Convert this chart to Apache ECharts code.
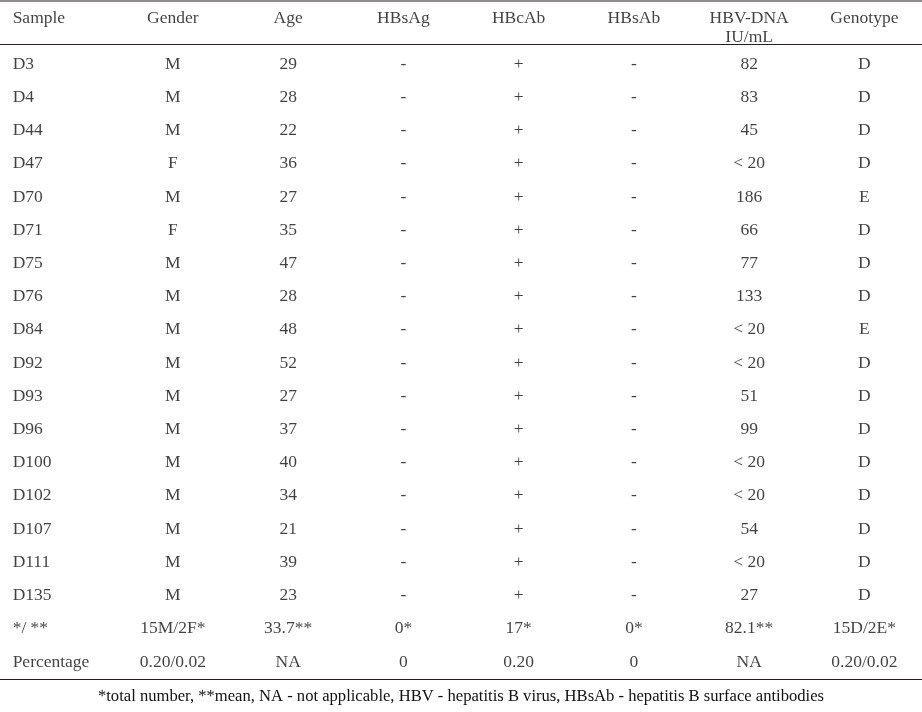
<!DOCTYPE html>
<html><head><meta charset="utf-8">
<script src="https://cdn.jsdelivr.net/npm/echarts@6/dist/echarts.min.js"></script>
<style>html,body{margin:0;padding:0;background:#fff}#c{width:922px;height:712px}</style>
</head><body><div id="c"></div>
<script>
var columns = ['Sample','Gender','Age','HBsAg','HBcAb','HBsAb','HBV-DNA\nIU/mL','Genotype'];
var samples = ['D3','D4','D44','D47','D70','D71','D75','D76','D84','D92','D93','D96','D100','D102','D107','D111','D135','*/ **','Percentage'];
var gender = ['M','M','M','F','M','F','M','M','M','M','M','M','M','M','M','M','M','15M/2F*','0.20/0.02'];
var age = ['29','28','22','36','27','35','47','28','48','52','27','37','40','34','21','39','23','33.7**','NA'];
var hbsag = ['-','-','-','-','-','-','-','-','-','-','-','-','-','-','-','-','-','0*','0'];
var hbcab = ['+','+','+','+','+','+','+','+','+','+','+','+','+','+','+','+','+','17*','0.20'];
var hbsab = ['-','-','-','-','-','-','-','-','-','-','-','-','-','-','-','-','-','0*','0'];
var hbvdna = ['82','83','45','< 20','186','66','77','133','< 20','< 20','51','99','< 20','< 20','54','< 20','27','82.1**','NA'];
var genotype = ['D','D','D','D','E','D','D','D','E','D','D','D','D','D','D','D','D','15D/2E*','0.20/0.02'];
var footnote = '*total number, **mean, NA - not applicable, HBV - hepatitis B virus, HBsAb - hepatitis B surface antibodies';

var colData = [samples, gender, age, hbsag, hbcab, hbsab, hbvdna, genotype];
var rowKeys = ['header'].concat(samples);
var font = '"Liberation Serif", "DejaVu Serif", serif';
var txt = '#111111';

var cells = [];
colData.forEach(function(arr, ci){
  arr.forEach(function(v, ri){
    cells.push({value:[columns[ci], samples[ri], v], label: ci===0 ? {align:'left', offset:[-45,0]} : {}});
  });
});
var headers = columns.map(function(c, ci){
  var two = c.indexOf('\n') >= 0;
  return {value:[c, 'header', c], label: ci===0 ? {align:'left', offset:[-45,-12]} : {offset:[0, two ? -2.5 : -12]}};
});

var chart = echarts.init(document.getElementById('c'), null, {renderer:'canvas'});
chart.setOption({
  animation:false,
  backgroundColor:'#fff',
  title:{text:footnote, left:'center', top:683, textStyle:{fontFamily:font, fontWeight:'normal', fontSize:16.6, color:txt}},
  grid:{left:-7, right:0, top:14.2, bottom:33.4},
  xAxis:{type:'category', data:columns, boundaryGap:true, show:false},
  yAxis:{type:'category', data:rowKeys, inverse:true, boundaryGap:true, show:false},
  graphic:[
    {type:'line', shape:{x1:0,y1:1,x2:922,y2:1}, style:{stroke:'#231f20', lineWidth:1.2}},
    {type:'line', shape:{x1:0,y1:44.5,x2:922,y2:44.5}, style:{stroke:'#231f20', lineWidth:1.2}},
    {type:'line', shape:{x1:0,y1:679.5,x2:922,y2:679.5}, style:{stroke:'#231f20', lineWidth:1.2}}
  ],
  series:[
    {type:'scatter', symbolSize:0, data:cells,
     label:{show:true, position:'inside', formatter:function(p){return p.value[2];}, fontFamily:font, fontSize:17.5, color:txt, align:'center', verticalAlign:'middle'}},
    {type:'scatter', symbolSize:0, data:headers,
     label:{show:true, position:'inside', formatter:function(p){return p.value[2];}, fontFamily:font, fontSize:17.5, lineHeight:19, color:txt, align:'center', verticalAlign:'middle'}}
  ]
});
</script></body></html>
